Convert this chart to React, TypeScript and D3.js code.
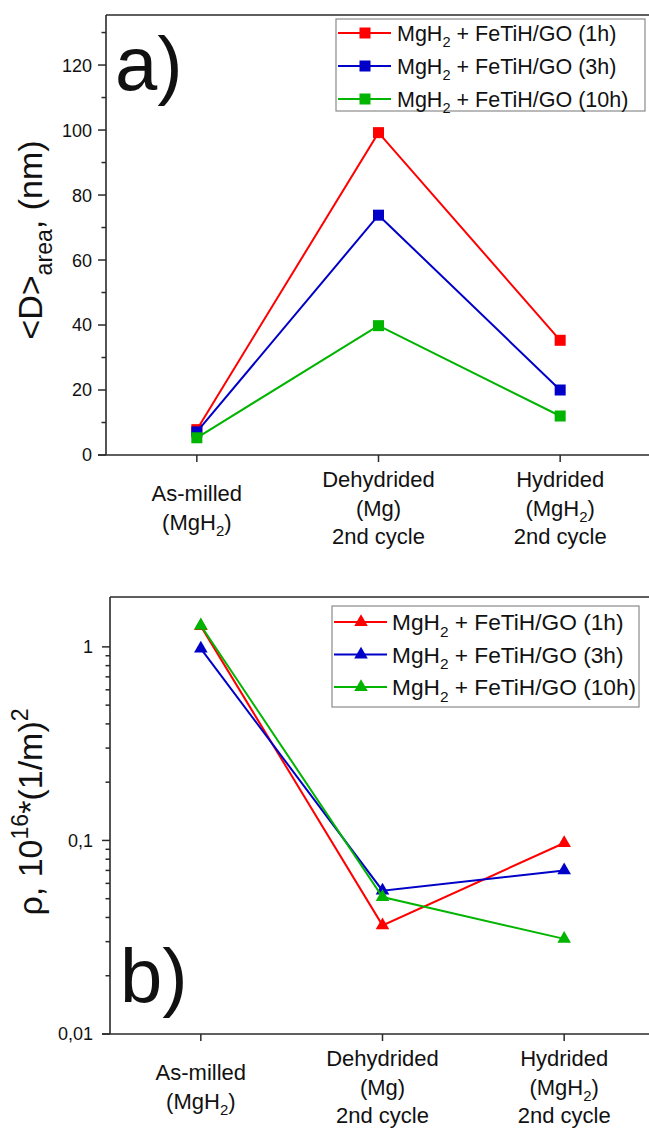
import React from 'react';
import * as d3 from 'd3';

// categories on the x axis (each entry = lines of the label)
const categories = [
  ['As-milled', '(MgH_{2})'],
  ['Dehydrided', '(Mg)', '2nd cycle'],
  ['Hydrided', '(MgH_{2})', '2nd cycle'],
];

const seriesNames = [
  'MgH_{2} + FeTiH/GO (1h)',
  'MgH_{2} + FeTiH/GO (3h)',
  'MgH_{2} + FeTiH/GO (10h)',
];
const seriesColors = ['#ff0000', '#0000c8', '#00b400'];

// panel a) crystallite size, nm
const size1h = [7.8, 99.2, 35.3];
const size3h = [7.1, 73.8, 20.0];
const size10h = [5.3, 39.8, 12.0];
const sizeTicks = [0, 20, 40, 60, 80, 100, 120];
const sizeMinorTicks = [10, 30, 50, 70, 90, 110, 130];

// panel b) dislocation density
const rho1h = [1.28, 0.0364, 0.097];
const rho3h = [0.98, 0.055, 0.07];
const rho10h = [1.29, 0.051, 0.031];
const rhoTicks = [0.01, 0.1, 1];
const rhoTickLabels = ['0,01', '0,1', '1'];

const FONT = '"Liberation Sans", Arial, sans-serif';
const AXIS = '#2a2a2a';

// text with _{sub} and ^{sup}
function rich(text: string, size: number) {
  const parts = text.split(/(_\{[^}]*\}|\^\{[^}]*\})/).filter(p => p !== '');
  let shift = 0;
  return parts.map((p, i) => {
    let target = 0, content = p, fs = size;
    if (p.startsWith('_{')) { target = 0.3 * size; content = p.slice(2, -1); fs = size * 0.68; }
    else if (p.startsWith('^{')) { target = -0.42 * size; content = p.slice(2, -1); fs = size * 0.68; }
    const dy = target - shift;
    shift = target;
    return <tspan key={i} dy={dy} fontSize={fs}>{content}</tspan>;
  });
}

function Panel(props: any) {
  const { left, top, axisY, y, data, ticks, tickLabels, minor, marker, legend, letter, ylabel, ylabelY, tickLabelX } = props;
  const x = d3.scaleLinear().domain([0.5, 3.5]).range([left, left + 545]);
  const line = d3.line<number>().x((d, i) => x(i + 1)).y(d => y(d));
  const tri = d3.symbol(d3.symbolTriangle, 80)();

  const drawMarker = (cx: number, cy: number, color: string, key: any) =>
    marker === 'square'
      ? <rect key={key} x={cx - 5.5} y={cy - 5.5} width={11} height={11} fill={color} />
      : <path key={key} d={tri as string} transform={`translate(${cx},${cy})`} fill={color} />;

  return (
    <g>
      {/* frame */}
      <line x1={left} x2={649} y1={top} y2={top} stroke={AXIS} strokeWidth={1.6} />
      <line x1={left} x2={left} y1={top} y2={axisY} stroke={AXIS} strokeWidth={1.6} />
      <line x1={left - 8} x2={649} y1={axisY} y2={axisY} stroke={AXIS} strokeWidth={1.6} />

      {/* y ticks */}
      {ticks.map((t: number, i: number) => (
        <g key={'t' + i}>
          <line x1={left - 8} x2={left} y1={y(t)} y2={y(t)} stroke={AXIS} strokeWidth={1.5} />
          <text x={tickLabelX} y={y(t)} dy="0.36em" textAnchor="end" fontSize={18} fontFamily={FONT} fill="#111">{tickLabels[i]}</text>
        </g>
      ))}
      {minor.map((t: number, i: number) => (
        <line key={'m' + i} x1={left - 4.5} x2={left} y1={y(t)} y2={y(t)} stroke={AXIS} strokeWidth={1.5} />
      ))}

      {/* x ticks & category labels */}
      {categories.map((lines, i) => {
        const cx = x(i + 1);
        const first = axisY + 46 - (lines.length - 2) * 14;
        return (
          <g key={'c' + i}>
            <line x1={cx} x2={cx} y1={axisY} y2={axisY + 7} stroke={AXIS} strokeWidth={1.5} />
            {lines.map((l, j) => (
              <text key={j} x={cx} y={first + j * 28.5} textAnchor="middle" fontSize={22} fontFamily={FONT} fill="#111">{rich(l, 22)}</text>
            ))}
          </g>
        );
      })}

      {/* series */}
      {data.map((vals: number[], s: number) => (
        <g key={'s' + s}>
          <path d={line(vals) as string} fill="none" stroke={seriesColors[s]} strokeWidth={2} />
          {vals.map((v, i) => drawMarker(x(i + 1), y(v), seriesColors[s], i))}
        </g>
      ))}

      {/* legend */}
      <rect x={legend.x} y={legend.y} width={legend.w} height={legend.h} fill="#fff" stroke="#8a8a8a" strokeWidth={1.2} />
      {seriesNames.map((n, s) => {
        const ly = legend.y + legend.pad + s * legend.step;
        const lx = legend.x + 2;
        return (
          <g key={'l' + s}>
            <line x1={lx} x2={lx + 53} y1={ly} y2={ly} stroke={seriesColors[s]} strokeWidth={2} />
            {drawMarker(lx + 27, ly, seriesColors[s], 'lm')}
            <text x={lx + legend.tx} y={ly + 8} fontSize={legend.fs} fontFamily={FONT} fill="#111">{rich(n, legend.fs)}</text>
          </g>
        );
      })}

      {/* panel letter */}
      <text x={letter.x} y={letter.y} fontSize={76} fontFamily={FONT} fill="#111">{letter.t}</text>

      {/* y label */}
      <text transform={`translate(42,${ylabelY}) rotate(-90)`} textAnchor="middle" fontSize={34} fontFamily={FONT} fill="#111">{rich(ylabel, 34)}</text>
    </g>
  );
}

export default function App() {
  const yA = d3.scaleLinear().domain([0, 135.4]).range([455, 15]);
  const yB = d3.scaleLog().domain([0.01, 1.81]).range([1034, 597]);
  const bMinor = yB.ticks().filter(t => !rhoTicks.some(m => Math.abs(m - t) < 1e-9));

  return (
    <svg width={649} height={1131} style={{ position: 'absolute', left: 0, top: 0, background: '#fff' }}>
      <rect width={649} height={1131} fill="#fff" />
      <Panel
        left={106} top={15} axisY={455} y={yA}
        data={[size1h, size3h, size10h]}
        ticks={sizeTicks} tickLabels={sizeTicks.map(String)} minor={sizeMinorTicks}
        tickLabelX={92}
        marker="square"
        legend={{ x: 336, y: 19, w: 309, h: 92, pad: 14, step: 33, fs: 21.5, tx: 59 }}
        letter={{ x: 115, y: 90, t: 'a)' }}
        ylabel="<D>_{area}, (nm)" ylabelY={240}
      />
      <Panel
        left={110} top={597} axisY={1034} y={yB}
        data={[rho1h, rho3h, rho10h]}
        ticks={rhoTicks} tickLabels={rhoTickLabels} minor={bMinor}
        tickLabelX={93}
        marker="triangle"
        legend={{ x: 332, y: 606, w: 307, h: 101, pad: 16, step: 32.5, fs: 22.7, tx: 58 }}
        letter={{ x: 120, y: 1002, t: 'b)' }}
        ylabel="ρ, 10^{16}*(1/m)^{2}" ylabelY={812}
      />
    </svg>
  );
}
